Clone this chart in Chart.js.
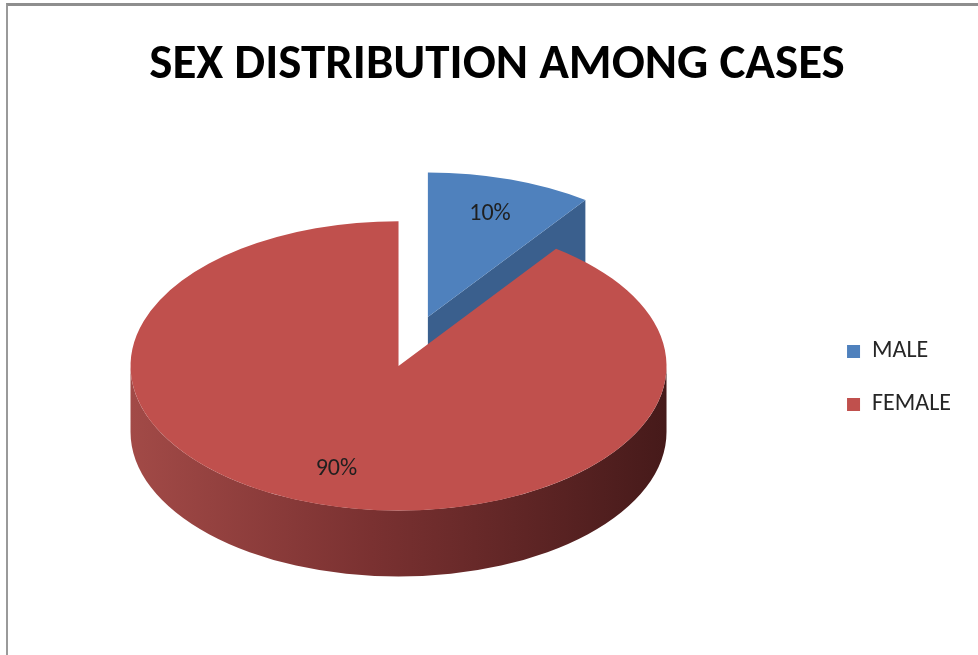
<!DOCTYPE html>
<html>
<head>
<meta charset="utf-8">
<script src="https://cdn.jsdelivr.net/npm/chart.js@4.4.1/dist/chart.umd.min.js"></script>
<style>
  html, body { margin: 0; padding: 0; background: #fff; }
  #frame { position: relative; width: 978px; height: 655px; overflow: hidden; }
  /* grey sheet edge along the top and left */
  #frame::before {
    content: ''; position: absolute; left: 6px; top: 3px; right: 0; bottom: 0;
    border-top: 3px solid #8e8e8e; border-left: 2px solid #9a9a9a;
  }
  canvas { position: absolute; left: 0; top: 0; }
</style>
</head>
<body>
<div id="frame"><canvas id="sexChart" width="978" height="655"></canvas></div>
<script>
const categories = ['MALE', 'FEMALE'];
const shares = [10, 90];

const sliceColors = ['#4f81bd', '#c0504d'];
const wallColors = [['#4a76ab', '#3a5f8d', '#2b4669'], ['#a24a47', '#7a3131', '#461a1a']];
const cutColors = ['#3a5f8d', '#8b3735'];

const fontFamily = "Carlito, Calibri, Lato, sans-serif";

// 3D look: slice pull-out, squash of the top face, disc thickness
const explode = [95, 0];
const tilt = 0.54;
const depth = 66;
const viewShift = { x: -27, y: -12 };

function pieCenter(chart) {
    const a = chart.chartArea;
    return { x: (a.left + a.right) / 2, y: (a.top + a.bottom) / 2 };
}

const pie3d = {
    id: 'pie3d',
    afterDatasetUpdate(chart, args) {
        const meta = chart.getDatasetMeta(args.index);
        meta.data.forEach((arc, i) => {
            const mid = (arc.startAngle + arc.endAngle) / 2;
            arc.x += Math.cos(mid) * (explode[i] || 0);
            arc.y += Math.sin(mid) * (explode[i] || 0);
        });
    },
    beforeDatasetsDraw(chart) {
        const ctx = chart.ctx;
        const meta = chart.getDatasetMeta(0);
        const cy = pieCenter(chart).y;
        const toScreen = (x, y) => ({ x: x + viewShift.x, y: cy + viewShift.y + (y - cy) * tilt });

        meta.data.forEach((arc, i) => {
            const R = arc.outerRadius;
            const c = toScreen(arc.x, arc.y);

            // radial cut faces that look towards the viewer
            [[arc.startAngle, -1], [arc.endAngle, 1]].forEach(([a, side]) => {
                if (side * Math.cos(a) <= 0.01) return;
                const rim = toScreen(arc.x + R * Math.cos(a), arc.y + R * Math.sin(a));
                ctx.beginPath();
                ctx.moveTo(c.x, c.y);
                ctx.lineTo(rim.x, rim.y);
                ctx.lineTo(rim.x, rim.y + depth);
                ctx.lineTo(c.x, c.y + depth);
                ctx.closePath();
                ctx.fillStyle = cutColors[i];
                ctx.fill();
            });

            // outer wall, only the front half of the disc is visible
            for (const k of [-1, 0, 1]) {
                const lo = Math.max(arc.startAngle, k * 2 * Math.PI);
                const hi = Math.min(arc.endAngle, k * 2 * Math.PI + Math.PI);
                if (hi <= lo) continue;
                const grad = ctx.createLinearGradient(c.x - R, 0, c.x + R, 0);
                grad.addColorStop(0, wallColors[i][0]);
                grad.addColorStop(0.45, wallColors[i][1]);
                grad.addColorStop(1, wallColors[i][2]);
                ctx.beginPath();
                ctx.ellipse(c.x, c.y, R, R * tilt, 0, lo, hi);
                ctx.ellipse(c.x, c.y + depth, R, R * tilt, 0, hi, lo, true);
                ctx.closePath();
                ctx.fillStyle = grad;
                ctx.fill();
            }
        });

        // top faces are drawn by Chart.js inside this squashed view
        ctx.save();
        ctx.translate(viewShift.x, cy + viewShift.y);
        ctx.scale(1, tilt);
        ctx.translate(0, -cy);
    },
    afterDatasetsDraw(chart) {
        const ctx = chart.ctx;
        ctx.restore();

        // percentage labels on the top faces
        const meta = chart.getDatasetMeta(0);
        const cy = pieCenter(chart).y;
        const total = shares.reduce((s, v) => s + v, 0);
        ctx.save();
        ctx.font = '24px ' + fontFamily;
        ctx.fillStyle = '#1f1f1f';
        ctx.textAlign = 'center';
        ctx.textBaseline = 'middle';
        meta.data.forEach((arc, i) => {
            const mid = (arc.startAngle + arc.endAngle) / 2;
            const r = arc.outerRadius * 0.75;
            const x = arc.x + r * Math.cos(mid) + viewShift.x;
            const y = cy + viewShift.y + (arc.y + r * Math.sin(mid) - cy) * tilt;
            ctx.fillText(Math.round(shares[i] / total * 100) + '%', x, y);
        });
        ctx.restore();
    }
};

new Chart(document.getElementById('sexChart'), {
    type: 'pie',
    data: {
        labels: categories,
        datasets: [{
            data: shares,
            backgroundColor: sliceColors,
            borderWidth: 0,
            radius: 268,
            clip: false
        }]
    },
    options: {
        responsive: false,
        animation: false,
        events: [],
        layout: { padding: { left: 33, right: 17, top: 0, bottom: 15 } },
        plugins: {
            title: {
                display: true,
                text: 'SEX DISTRIBUTION AMONG CASES',
                color: '#000',
                font: { family: fontFamily, size: 49, weight: 'bold', lineHeight: 1.2 },
                padding: { top: 36, bottom: 21 }
            },
            legend: {
                position: 'right',
                fullSize: false,
                labels: {
                    boxWidth: 13,
                    boxHeight: 13,
                    padding: 29,
                    color: '#262626',
                    font: { family: fontFamily, size: 24 }
                }
            },
            tooltip: { enabled: false }
        }
    },
    plugins: [pie3d]
});
</script>
</body>
</html>
